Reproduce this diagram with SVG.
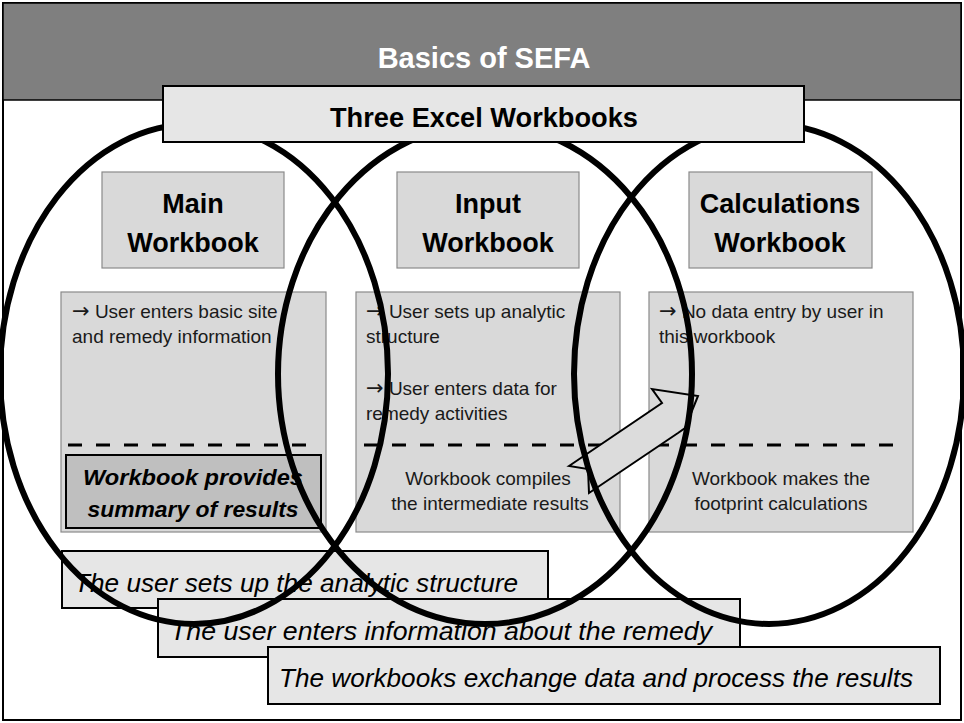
<svg xmlns="http://www.w3.org/2000/svg" width="964" height="723" viewBox="0 0 964 723">
<style>
  text { font-family: "Liberation Sans", Arial, sans-serif; }
  .head { font-size: 27px; font-weight: bold; fill: #000; text-anchor: middle; }
  .hbox { fill: #d9d9d9; stroke: #8a8a8a; stroke-width: 1.2; }
  .cbox { fill: #d9d9d9; stroke: #8a8a8a; stroke-width: 1.2; }
  .body { font-size: 19px; fill: #1a1a1a; }
  .arr { font-family: "DejaVu Sans", sans-serif; font-size: 21px; }
  .mid { text-anchor: middle; }
  .dash { stroke: #000; stroke-width: 3; stroke-dasharray: 14 14; fill: none; }
  .lbox { fill: #e6e6e6; stroke: #000; stroke-width: 2; }
  .ltext { font-size: 25px; font-style: italic; fill: #000; }
  .ring { fill: none; stroke: #000; stroke-width: 6; }
</style>
<rect x="3" y="3" width="958" height="717" fill="#ffffff" stroke="#000" stroke-width="2"/>
<g id="header">
  <rect x="3" y="3" width="958" height="97" fill="#7f7f7f" stroke="#000" stroke-width="1.5"/>
  <text x="484" y="68" font-size="29" font-weight="bold" fill="#ffffff" text-anchor="middle">Basics of SEFA</text>
</g>
<g id="main-workbook">
  <rect class="hbox" x="102" y="172" width="182" height="96"/>
  <text class="head" x="193" y="213">Main</text>
  <text class="head" x="193" y="252">Workbook</text>
</g>
<g id="input-workbook">
  <rect class="hbox" x="397" y="172" width="182" height="96"/>
  <text class="head" x="488" y="213">Input</text>
  <text class="head" x="488" y="252">Workbook</text>
</g>
<g id="calc-workbook">
  <rect class="hbox" x="689" y="172" width="183" height="96"/>
  <text class="head" x="780" y="213">Calculations</text>
  <text class="head" x="780" y="252">Workbook</text>
</g>
<g id="main-content">
  <rect class="cbox" x="61" y="292" width="265" height="240"/>
  <text class="body" x="72" y="318"><tspan class="arr">→</tspan> User enters basic site</text>
  <text class="body" x="72" y="343">and remedy information</text>
  <line class="dash" x1="68" y1="445" x2="308" y2="445"/>
</g>
<g id="main-summary">
  <rect x="66" y="455" width="255" height="73" fill="#bfbfbf" stroke="#000" stroke-width="2"/>
  <text x="193" y="485" font-size="22.5" font-weight="bold" font-style="italic" text-anchor="middle" textLength="220" lengthAdjust="spacingAndGlyphs">Workbook provides</text>
  <text x="193" y="517" font-size="22.5" font-weight="bold" font-style="italic" text-anchor="middle" textLength="211" lengthAdjust="spacingAndGlyphs">summary of results</text>
</g>
<g id="input-content">
  <rect class="cbox" x="356" y="292" width="264" height="240"/>
  <text class="body" x="366" y="318"><tspan class="arr">→</tspan> User sets up analytic</text>
  <text class="body" x="366" y="343">structure</text>
  <text class="body" x="366" y="395"><tspan class="arr">→</tspan> User enters data for</text>
  <text class="body" x="366" y="420">remedy activities</text>
  <line class="dash" x1="364" y1="445" x2="615" y2="445"/>
  <text class="body mid" x="488" y="485">Workbook compiles</text>
  <text class="body mid" x="490" y="510">the intermediate results</text>
</g>
<g id="calc-content">
  <rect class="cbox" x="649" y="292" width="264" height="240"/>
  <text class="body" x="659" y="318"><tspan class="arr">→</tspan> No data entry by user in</text>
  <text class="body" x="659" y="343">this workbook</text>
  <line class="dash" x1="655" y1="445" x2="897" y2="445"/>
  <text class="body mid" x="781" y="485">Workbook makes the</text>
  <text class="body mid" x="781" y="510">footprint calculations</text>
</g>
<g id="connectors">
  <polygon points="569,466 662,403 652,389 698,396 685,428 678,433 589,493 588,469" fill="#dcdcdc" stroke="#000" stroke-width="2" stroke-linejoin="miter"/>
</g>
<g id="label-1">
  <rect class="lbox" x="62" y="551" width="486" height="57"/>
  <text class="ltext" x="74" y="592" textLength="444" lengthAdjust="spacingAndGlyphs">The user sets up the analytic structure</text>
</g>
<g id="label-2">
  <rect class="lbox" x="158" y="599" width="582" height="58"/>
  <text class="ltext" x="170" y="640" textLength="542" lengthAdjust="spacingAndGlyphs">The user enters information about the remedy</text>
</g>
<g id="label-3">
  <rect class="lbox" x="268" y="647" width="672" height="57"/>
  <text class="ltext" x="279" y="687" textLength="634" lengthAdjust="spacingAndGlyphs">The workbooks exchange data and process the results</text>
</g>
<g id="rings">
  <ellipse class="ring" cx="194" cy="374" rx="194" ry="250"/>
  <ellipse class="ring" cx="485" cy="374" rx="207" ry="250"/>
  <ellipse class="ring" cx="769" cy="374" rx="195" ry="250"/>
</g>
<g id="three-workbooks">
  <rect x="163" y="86" width="641" height="56" fill="#e6e6e6" stroke="#000" stroke-width="2"/>
  <text x="484" y="127" font-size="27" font-weight="bold" fill="#000" text-anchor="middle" textLength="308" lengthAdjust="spacingAndGlyphs">Three Excel Workbooks</text>
</g>
</svg>
